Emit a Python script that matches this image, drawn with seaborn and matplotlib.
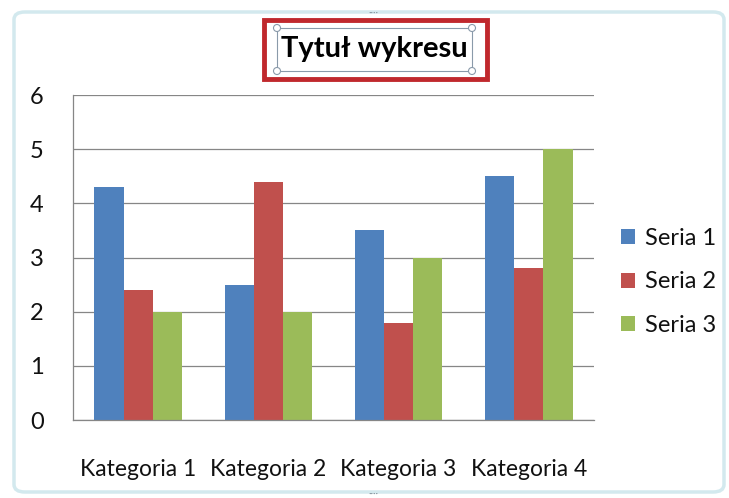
import matplotlib
matplotlib.use("Agg")
import matplotlib.pyplot as plt
import matplotlib.patches as mpatches
import pandas as pd
import seaborn as sns

# dane wykresu
kategorie = ["Kategoria 1", "Kategoria 2", "Kategoria 3", "Kategoria 4"]
serie = ["Seria 1", "Seria 2", "Seria 3"]
seria_1 = [4.3, 2.5, 3.5, 4.5]
seria_2 = [2.4, 4.4, 1.8, 2.8]
seria_3 = [2.0, 2.0, 3.0, 5.0]
kolory = ["#4F81BD", "#C0504D", "#9BBB59"]

df = pd.DataFrame({
    "Kategoria": kategorie * 3,
    "Seria": [s for s in serie for _ in kategorie],
    "Wartosc": seria_1 + seria_2 + seria_3,
})

sns.set_style("white")
plt.rcParams["font.family"] = ["Lato", "DejaVu Sans"]

W, H = 729, 498
fig = plt.figure(figsize=(W / 100, H / 100), dpi=100)
ax = fig.add_axes([73 / W, 1 - 420 / H, (594 - 73) / W, (420 - 95) / H])

sns.barplot(data=df, x="Kategoria", y="Wartosc", hue="Seria", palette=kolory,
            width=0.67, saturation=1, linewidth=0, ax=ax, legend=True)

ax.set_ylim(0, 6)
ax.set_xlim(-0.5, 3.5)
ax.set_yticks(range(0, 7))
ax.yaxis.grid(True, color="#868686", linewidth=0.9)
ax.set_axisbelow(True)
ax.set_xlabel("")
ax.set_ylabel("")
for s in ["top", "right"]:
    ax.spines[s].set_visible(False)
for s in ["left", "bottom"]:
    ax.spines[s].set_color("#868686")
    ax.spines[s].set_linewidth(0.9)

ax.tick_params(axis="y", length=7, color="#868686", pad=14, labelsize=17, labelcolor="#111111")
ax.tick_params(axis="x", which="major", length=0, pad=28, labelsize=16.5, labelcolor="#111111")
ax.set_xticks([-0.5, 0.5, 1.5, 2.5, 3.5], minor=True)
ax.tick_params(axis="x", which="minor", length=7, color="#868686", direction="out")

leg = ax.legend(loc="center left", bbox_to_anchor=(1.052, 0.425), frameon=False,
                fontsize=17, handlelength=0.6, handleheight=0.6, labelspacing=0.95,
                handletextpad=0.4, borderpad=0, borderaxespad=0)
for t in leg.get_texts():
    t.set_color("#111111")

# ramka obszaru wykresu (zaznaczenie)
frame = mpatches.FancyBboxPatch((14 / W, 6 / H), (724 - 14) / W, (486 - 6) / H,
                                boxstyle="round,pad=0,rounding_size=0.015",
                                transform=fig.transFigure, facecolor="none",
                                edgecolor="#d3e9ee", linewidth=2.5)
fig.add_artist(frame)
fig.text(373 / W, 1 - 13 / H, "····", ha="center", va="center", fontsize=7, color="#7f8f99")
fig.text(373 / W, 1 - 494 / H, "····", ha="center", va="center", fontsize=7, color="#7f8f99")

# tytuł z ramką
fig.text(374 / W, 1 - 49 / H, "Tytuł wykresu", ha="center", va="center",
         fontsize=21, fontweight="bold", color="black")
red = mpatches.Rectangle((264 / W, 1 - 79 / H), (487 - 264) / W, (79 - 20) / H,
                         transform=fig.transFigure, facecolor="none",
                         edgecolor="#C0282D", linewidth=3.5)
fig.add_artist(red)
inner = mpatches.Rectangle((277 / W, 1 - 71 / H), (472 - 277) / W, (71 - 28) / H,
                           transform=fig.transFigure, facecolor="none",
                           edgecolor="#8a9aaa", linewidth=0.8)
fig.add_artist(inner)
for cx, cy in [(277, 28), (472, 28), (277, 71), (472, 71)]:
    fig.add_artist(mpatches.Ellipse((cx / W, 1 - cy / H), 7 / W, 7 / H,
                                    transform=fig.transFigure, facecolor="white",
                                    edgecolor="#8a9aaa", linewidth=0.8))

fig.savefig("out.png", dpi=100)
